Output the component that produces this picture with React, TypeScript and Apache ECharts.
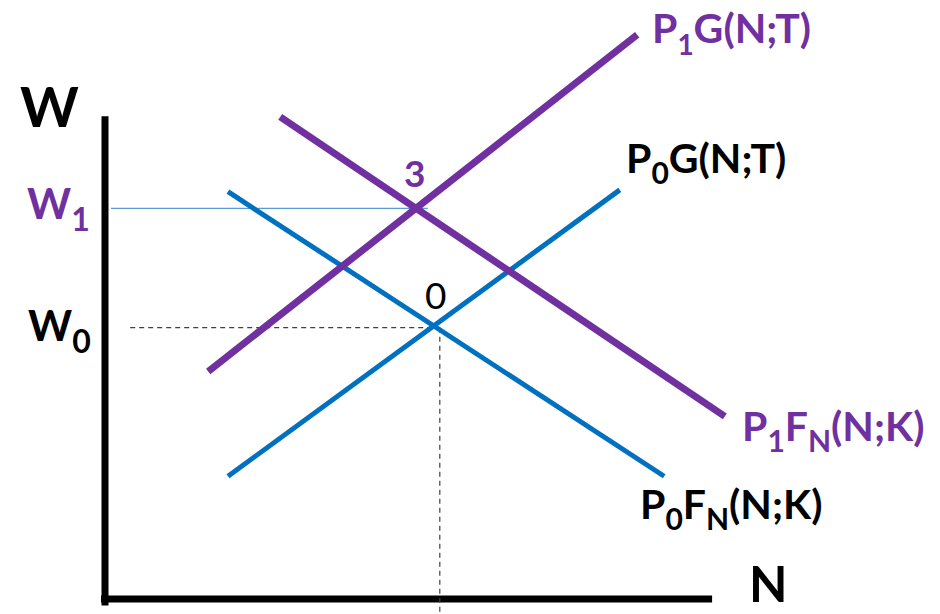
import React, { useEffect, useRef } from "react";
import * as echarts from "echarts";

// Data (N = employment, W = wage), abstract units
const P0G_N = [2.05, 8.58];
const P0G_W = [2.05, 6.83];
const P0F_N = [2.05, 9.32];
const P0F_W = [6.8, 2.05];
const P1G_N = [1.72, 8.87];
const P1G_W = [3.8, 9.42];
const P1F_N = [2.92, 10.33];
const P1F_W = [8.05, 3.05];
const AXIS_N = [-0.05, 10.06];
const AXIS_W = [-0.05, 8.0];
const W1_LEVEL = 6.52;
const W1_N = [0.1, 5.38];
const W0_LEVEL = 4.53;
const W0_N = [0.42, 5.47];
const N0_LEVEL = 5.58;
const N0_W = [4.53, -0.25];

const BLUE = "#0070C0";
const PURPLE = "#7030A0";
const FONT = "Lato";

const pairs = (xs: number[], ys: number[]) => xs.map((x, i) => [x, ys[i]]);

function lineSeries(data: number[][], color: string, width: number, type: any = "solid", cap: any = "butt") {
  return {
    type: "line",
    data,
    symbol: "none",
    silent: true,
    lineStyle: { color, width, type, cap },
    z: 2,
  };
}

function label(x: number, y: number, main1: string, sub1: string, main2: string, color: string, fs: number, sfs: number, pad: number, sub2?: string, main3?: string) {
  let text = `{m|${main1}}{s|${sub1}}{m|${main2}}`;
  if (sub2) text += `{s|${sub2}}{m|${main3}}`;
  return {
    type: "text",
    x,
    y,
    style: {
      text,
      fill: color,
      verticalAlign: "middle",
      align: "left",
      rich: {
        m: { fontSize: fs, fontWeight: "bold", fontFamily: FONT, fill: color, color },
        s: { fontSize: sfs, fontWeight: "bold", fontFamily: FONT, fill: color, color, padding: [pad, 0, 0, 0] },
      },
    },
  };
}

export default function App() {
  const ref = useRef<HTMLDivElement>(null);
  useEffect(() => {
    document.body.style.margin = "0";
    const chart = echarts.init(ref.current!, null, { renderer: "svg" });
    chart.setOption({
      animation: false,
      backgroundColor: "#ffffff",
      grid: { left: 105, top: 0, width: 780, height: 615 },
      xAxis: { type: "value", min: 0, max: 13, show: false },
      yAxis: { type: "value", min: -0.25, max: 10, show: false },
      series: [
        lineSeries(pairs([0, 0], AXIS_W), "#000000", 7, "solid", "square"),
        lineSeries(pairs(AXIS_N, [0, 0]), "#000000", 7, "solid", "square"),
        lineSeries(pairs(W1_N, [W1_LEVEL, W1_LEVEL]), "#5B9BD5", 1.3),
        lineSeries(pairs(W0_N, [W0_LEVEL, W0_LEVEL]), "#404040", 1.2, [5, 4]),
        lineSeries(pairs([N0_LEVEL, N0_LEVEL], N0_W), "#404040", 1.2, [5, 4]),
        lineSeries(pairs(P0G_N, P0G_W), BLUE, 5),
        lineSeries(pairs(P0F_N, P0F_W), BLUE, 5),
        lineSeries(pairs(P1G_N, P1G_W), PURPLE, 7),
        lineSeries(pairs(P1F_N, P1F_W), PURPLE, 7),
      ],
      graphic: [
        { type: "text", x: 20, y: 105, style: { text: "W", fontSize: 56, lineHeight: 42, fontWeight: "bold", fontFamily: FONT, fill: "#000", verticalAlign: "middle" } },
        { type: "text", x: 749, y: 583, style: { text: "N", fontSize: 50, lineHeight: 40, fontWeight: "bold", fontFamily: FONT, fill: "#000", verticalAlign: "middle" } },
        label(27, 203, "W", "1", "", PURPLE, 42, 32, 30),
        label(28, 325, "W", "0", "", "#000", 42, 32, 30),
        label(652, 27, "P", "1", "G(N;T)", PURPLE, 41, 28, 34),
        label(626, 157, "P", "0", "G(N;T)", "#000", 41, 30, 30),
        label(742, 425, "P", "1", "F", PURPLE, 41, 30, 30, "N", "(N;K)"),
        label(640, 503, "P", "0", "F", "#000", 41, 30, 30, "N", "(N;K)"),
        { type: "text", x: 404, y: 172, style: { text: "3", fontSize: 37, fontWeight: "bold", fontFamily: FONT, fill: PURPLE, verticalAlign: "middle" } },
        { type: "text", x: 425, y: 294, style: { text: "0", fontSize: 37, fontFamily: FONT, fill: "#000", verticalAlign: "middle" } },
      ],
    });
    return () => chart.dispose();
  }, []);
  return <div ref={ref} style={{ position: "absolute", left: 0, top: 0, width: 940, height: 614 }} />;
}
